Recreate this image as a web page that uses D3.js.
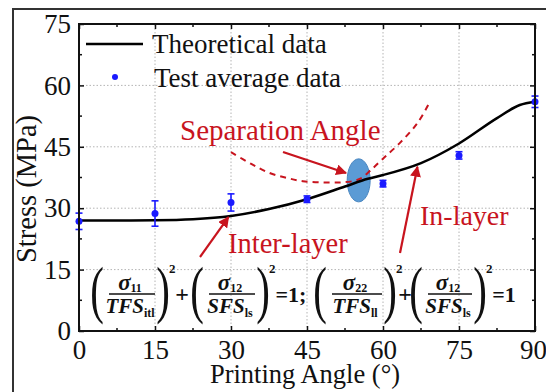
<!DOCTYPE html>
<html>
<head>
<meta charset="utf-8">
<script src="https://cdn.jsdelivr.net/npm/d3@7"></script>
<style>
  html, body { margin: 0; padding: 0; background: #fff; }
  svg text { font-family: "Times New Roman", "Liberation Serif", "DejaVu Serif", serif; }
</style>
</head>
<body>
<svg id="chart" width="546" height="392"></svg>
<script>
// data
const angles = [0, 15, 30, 45, 60, 75, 90];
const testMeans = [26.8, 28.7, 31.4, 32.2, 36.0, 42.9, 56.0];
const testErrors = [2.0, 3.1, 2.1, 0.8, 0.8, 0.9, 1.4];

const theoryAngles = [0, 7.5, 15, 22.5, 30, 37.5, 45, 52.5, 57, 60, 67.5, 75, 82.5, 87, 90];
const theoryStress = [27, 27, 27.05, 27.3, 28.1, 29.8, 32.2, 35.3, 37.2, 38.1, 41, 45.8, 52, 55.2, 56];

const sepAngles = [30, 34, 37.6, 41, 44.2, 48, 51.5, 54, 55.5, 57.5, 60, 63.3, 66.8, 69];
const sepStress = [43.7, 40.8, 38.6, 37.4, 36.6, 36.3, 36.3, 36.6, 37.2, 39.2, 42.1, 45.9, 50.8, 55.4];

const xTicks = [0, 15, 30, 45, 60, 75, 90];
const yTicks = [0, 15, 30, 45, 60, 75];
const xMinor = [7.5, 22.5, 37.5, 52.5, 67.5, 82.5];
const yMinor = [7.5, 22.5, 37.5, 52.5, 67.5];

const sepPoint = [55.2, 36.8]; // separation angle marker (angle, stress)

const red = '#c8141e';
const blue = '#1a1aff';

const svg = d3.select('#chart');

// outer frame of the picture
svg.append('rect')
  .attr('x', 13).attr('y', 9)
  .attr('width', 560).attr('height', 420)
  .attr('fill', 'none').attr('stroke', '#333').attr('stroke-width', 2);

const x = d3.scaleLinear().domain([0, 90]).range([79, 535]);
const y = d3.scaleLinear().domain([0, 75]).range([331, 24]);

// grid
const grid = svg.append('g')
  .attr('stroke', '#b4b4b4').attr('stroke-width', 1).attr('stroke-dasharray', '1.5,2');
grid.selectAll('.gx').data(xTicks.slice(1, -1)).join('line')
  .attr('x1', d => x(d)).attr('x2', d => x(d))
  .attr('y1', y(0)).attr('y2', y(75));
grid.selectAll('.gy').data(yTicks.slice(1, -1)).join('line')
  .attr('y1', d => y(d)).attr('y2', d => y(d))
  .attr('x1', x(0)).attr('x2', x(90));

// axes (ticks point inward)
const axisFont = g => g.attr('font-family', null).selectAll('text')
  .attr('font-size', 27).attr('fill', '#111');

svg.append('g').attr('transform', `translate(0,${y(0)})`)
  .call(d3.axisBottom(x).tickValues(xTicks).tickSizeInner(-5).tickSizeOuter(0).tickPadding(8))
  .call(g => g.select('.domain').remove())
  .call(axisFont)
  .call(g => g.selectAll('text').attr('dy', '0.74em').attr('dx', d => d === 90 ? -2 : 0));
svg.append('g').attr('transform', `translate(0,${y(75)})`)
  .call(d3.axisTop(x).tickValues(xTicks).tickSizeInner(-5).tickSizeOuter(0).tickFormat(''))
  .call(g => g.select('.domain').remove());
svg.append('g').attr('transform', `translate(${x(0)},0)`)
  .call(d3.axisLeft(y).tickValues(yTicks).tickSizeInner(-5).tickSizeOuter(0).tickPadding(8))
  .call(g => g.select('.domain').remove())
  .call(axisFont);
svg.append('g').attr('transform', `translate(${x(90)},0)`)
  .call(d3.axisRight(y).tickValues(yTicks).tickSizeInner(-5).tickSizeOuter(0).tickFormat(''))
  .call(g => g.select('.domain').remove());

// minor ticks
const minor = svg.append('g').attr('stroke', '#111').attr('stroke-width', 1.5);
minor.selectAll('.mb').data(xMinor).join('line')
  .attr('x1', d => x(d)).attr('x2', d => x(d)).attr('y1', y(0)).attr('y2', y(0) - 3);
minor.selectAll('.mt').data(xMinor).join('line')
  .attr('x1', d => x(d)).attr('x2', d => x(d)).attr('y1', y(75)).attr('y2', y(75) + 3);
minor.selectAll('.ml').data(yMinor).join('line')
  .attr('y1', d => y(d)).attr('y2', d => y(d)).attr('x1', x(0)).attr('x2', x(0) + 3);
minor.selectAll('.mr').data(yMinor).join('line')
  .attr('y1', d => y(d)).attr('y2', d => y(d)).attr('x1', x(90)).attr('x2', x(90) - 3);
svg.selectAll('.tick line').attr('stroke', '#111').attr('stroke-width', 1.5);

// axis titles
svg.append('text')
  .attr('x', 305).attr('y', 383)
  .attr('text-anchor', 'middle').attr('font-size', 26.5).attr('fill', '#111')
  .text('Printing Angle (°)');
svg.append('text')
  .attr('transform', `translate(36,189) rotate(-90)`)
  .attr('text-anchor', 'middle').attr('font-size', 28.5).attr('fill', '#111')
  .text('Stress (MPa)');

// separation marker
svg.append('ellipse')
  .attr('cx', x(sepPoint[0])).attr('cy', y(sepPoint[1]))
  .attr('rx', 11.5).attr('ry', 21.5)
  .attr('fill', '#5b9bd5').attr('stroke', '#4a86c0').attr('stroke-width', 1);

// dashed separation curve
svg.append('path')
  .datum(d3.zip(sepAngles, sepStress))
  .attr('fill', 'none').attr('stroke', red).attr('stroke-width', 2)
  .attr('stroke-dasharray', '6,5')
  .attr('d', d3.line().x(d => x(d[0])).y(d => y(d[1])).curve(d3.curveCatmullRom));

// theoretical curve
svg.append('path')
  .datum(d3.zip(theoryAngles, theoryStress))
  .attr('fill', 'none').attr('stroke', '#000').attr('stroke-width', 2.5)
  .attr('d', d3.line().x(d => x(d[0])).y(d => y(d[1])).curve(d3.curveMonotoneX));

// test data with error bars
const tests = d3.zip(angles, testMeans, testErrors);
const eb = svg.append('g').attr('stroke', blue).attr('stroke-width', 1.6);
eb.selectAll('.v').data(tests).join('line')
  .attr('x1', d => x(d[0])).attr('x2', d => x(d[0]))
  .attr('y1', d => y(d[1] - d[2])).attr('y2', d => y(d[1] + d[2]));
eb.selectAll('.c1').data(tests).join('line')
  .attr('x1', d => x(d[0]) - 3.5).attr('x2', d => x(d[0]) + 3.5)
  .attr('y1', d => y(d[1] - d[2])).attr('y2', d => y(d[1] - d[2]));
eb.selectAll('.c2').data(tests).join('line')
  .attr('x1', d => x(d[0]) - 3.5).attr('x2', d => x(d[0]) + 3.5)
  .attr('y1', d => y(d[1] + d[2])).attr('y2', d => y(d[1] + d[2]));
svg.selectAll('.pt').data(tests).join('circle')
  .attr('cx', d => x(d[0])).attr('cy', d => y(d[1])).attr('r', 3.5).attr('fill', blue);

// plot frame
svg.append('rect')
  .attr('x', x(0)).attr('y', y(75))
  .attr('width', x(90) - x(0)).attr('height', y(0) - y(75))
  .attr('fill', 'none').attr('stroke', '#111').attr('stroke-width', 2);

// legend
svg.append('line').attr('x1', 86).attr('x2', 143).attr('y1', 44).attr('y2', 44)
  .attr('stroke', '#000').attr('stroke-width', 2.5);
svg.append('text').attr('x', 152).attr('y', 53).attr('font-size', 27).attr('fill', '#111')
  .text('Theoretical data');
svg.append('circle').attr('cx', 115).attr('cy', 77).attr('r', 3).attr('fill', blue);
svg.append('text').attr('x', 154).attr('y', 87).attr('font-size', 27).attr('fill', '#111')
  .text('Test average data');

// annotations
svg.append('defs').append('marker')
  .attr('id', 'arr').attr('viewBox', '0 0 10 10').attr('refX', 9).attr('refY', 5)
  .attr('markerWidth', 5).attr('markerHeight', 5).attr('orient', 'auto')
  .append('path').attr('d', 'M0,0L10,5L0,10z').attr('fill', red);

const note = (txt, tx, ty, size) => svg.append('text')
  .attr('x', tx).attr('y', ty).attr('font-size', size).attr('fill', red).text(txt);
note('Separation Angle', 180, 140, 29);
note('Inter-layer', 228, 253, 28.5);
note('In-layer', 420, 225, 28);

const arrow = (x1, y1, x2, y2) => svg.append('line')
  .attr('x1', x1).attr('y1', y1).attr('x2', x2).attr('y2', y2)
  .attr('stroke', red).attr('stroke-width', 2.2).attr('marker-end', 'url(#arr)');
arrow(283, 152, 346, 173);
arrow(200, 257, x(29.5), y(28.3) + 2);
arrow(400, 253, x(66.8), y(40.6) + 2);

// failure criteria
const eq = svg.append('g').attr('fill', '#111');
function term(cx, num, numSub, den, denSub, halfW) {
  const paren = (ch, px) => eq.append('text').attr('x', px).attr('y', 311)
    .attr('text-anchor', 'middle').attr('font-size', 63)
    .attr('transform', `translate(${px * 0.35},0) scale(0.65,1)`).text(ch);
  paren('(', cx - halfW - 5);
  paren(')', cx + halfW + 5);
  eq.append('line').attr('x1', cx - halfW + 7).attr('x2', cx + halfW - 3)
    .attr('y1', 294).attr('y2', 294).attr('stroke', '#111').attr('stroke-width', 1.6);
  const n = eq.append('text').attr('x', cx).attr('y', 290).attr('text-anchor', 'middle')
    .attr('font-size', 23).attr('font-weight', 'bold').attr('font-style', 'italic');
  n.append('tspan').text(num);
  n.append('tspan').attr('font-size', 12).attr('font-style', 'normal').attr('dy', 2).text(numSub);
  const d = eq.append('text').attr('x', cx).attr('y', 313).attr('text-anchor', 'middle')
    .attr('font-size', 21).attr('font-weight', 'bold').attr('font-style', 'italic');
  d.append('tspan').text(den);
  d.append('tspan').attr('font-size', 12).attr('font-style', 'normal').attr('dy', 4).text(denSub);
  eq.append('text').attr('x', cx + halfW + 11).attr('y', 273)
    .attr('font-size', 13).attr('font-weight', 'bold').text('2');
}
const sym = (s, sx, size) => eq.append('text').attr('x', sx).attr('y', 302)
  .attr('text-anchor', 'middle').attr('font-size', size).attr('font-weight', 'bold').text(s);

term(130, 'σ', '11', 'TFS', 'itl', 28);
sym('+', 182, 24);
term(230, 'σ', '12', 'SFS', 'ls', 28);
sym('=1;', 291, 22);
term(355, 'σ', '22', 'TFS', 'll', 30);
sym('+', 405, 24);
term(448, 'σ', '12', 'SFS', 'ls', 27);
sym('=1', 504, 22);
</script>
</body>
</html>
